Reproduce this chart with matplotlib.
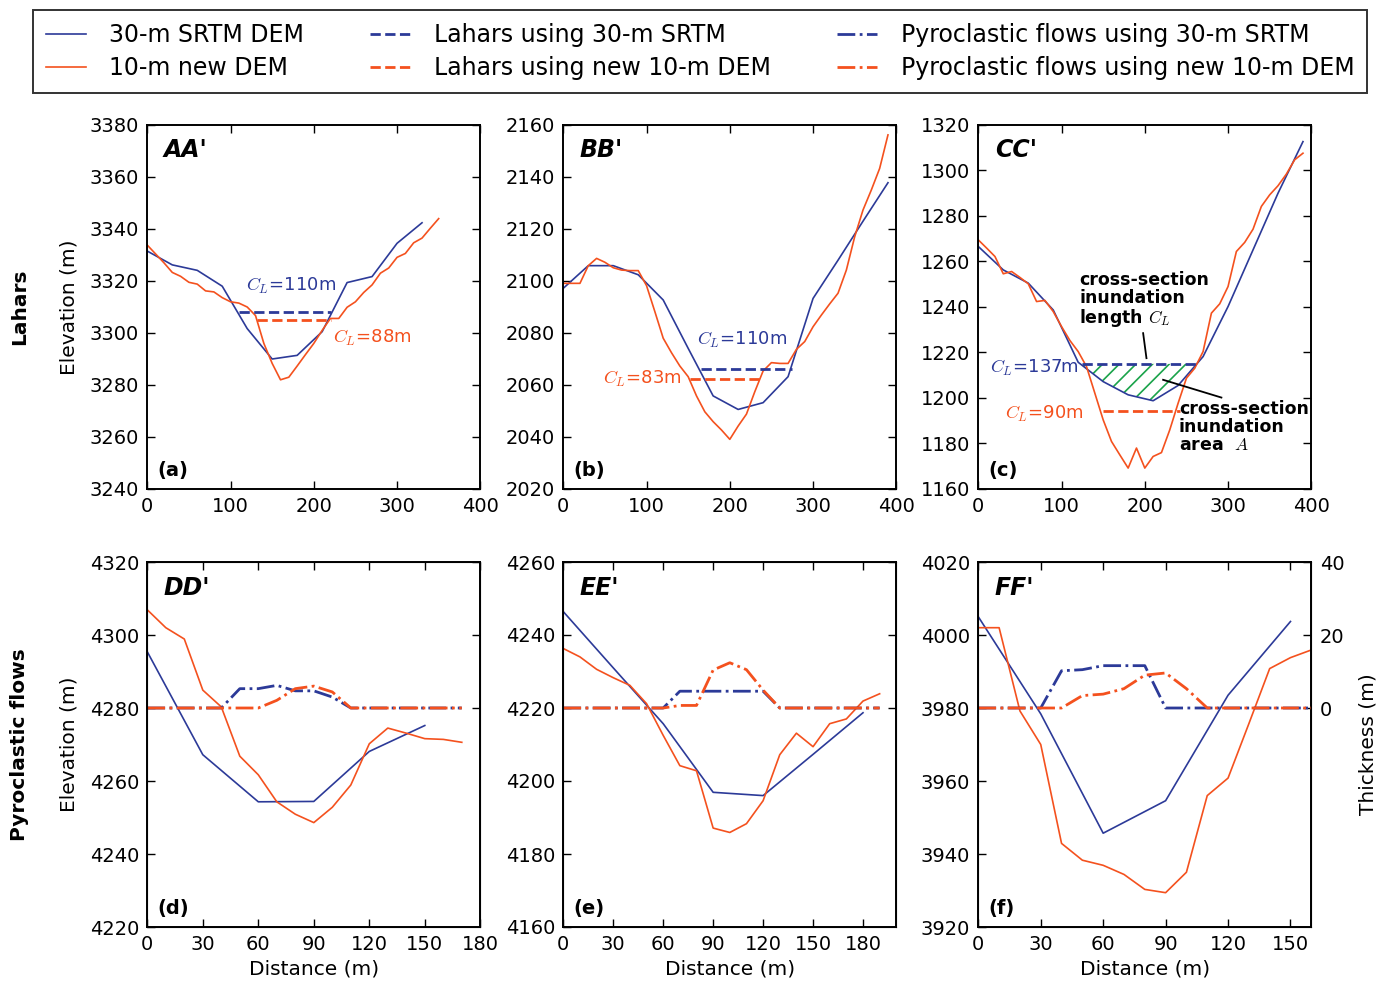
import matplotlib
matplotlib.use("Agg")
import matplotlib.pyplot as plt
import numpy as np

plt.rcParams['font.family'] = ['DejaVu Sans']
plt.rcParams['mathtext.fontset'] = 'cm'
plt.rcParams['hatch.linewidth'] = 1.2

BLUE = '#2c3a98'
ORANGE = '#f4511e'
GREEN = '#1aa34a'

# ---- lahars: elevation profiles ----
a_x30 = [0, 30, 60, 90, 120, 150, 180, 210, 240, 270, 300, 330]
a_z30 = [3331.5, 3326.2, 3324.1, 3318.0, 3301.7, 3290.0, 3291.4, 3300.5, 3319.4, 3321.7, 3334.5, 3342.4]
a_x10 = list(range(0, 351, 10))
a_z10 = [3333.8, 3330.4, 3327.0, 3323.3, 3321.8, 3319.5, 3318.8, 3316.2, 3315.8, 3313.6,
         3312.0, 3311.5, 3310.0, 3306.7, 3296.0, 3288.3, 3282.0, 3283.0, 3287.3, 3291.7,
         3296.0, 3301.0, 3305.6, 3305.6, 3309.9, 3312.0, 3315.6, 3318.5, 3323.0, 3325.0,
         3329.1, 3330.6, 3334.7, 3336.5, 3340.3, 3344.0]

b_x30 = [0, 30, 60, 90, 120, 150, 180, 210, 240, 270, 300, 330, 360, 390]
b_z30 = [2097.2, 2105.9, 2105.9, 2102.4, 2092.7, 2074.1, 2055.8, 2050.6, 2053.2, 2063.2,
         2093.3, 2108.0, 2123.0, 2137.8]
b_x10 = list(range(0, 391, 10))
b_z10 = [2099.1, 2099.1, 2099.1, 2105.9, 2108.7, 2107.2, 2105.1, 2104.2, 2104.0, 2104.0,
         2098.2, 2088.2, 2078.0, 2072.4, 2067.3, 2063.2, 2055.8, 2049.7, 2045.9, 2042.7,
         2039.1, 2044.2, 2048.8, 2057.4, 2065.4, 2068.6, 2068.3, 2068.3, 2073.7, 2076.7,
         2082.4, 2086.9, 2091.2, 2095.3, 2104.2, 2117.0, 2127.3, 2135.0, 2143.3, 2156.2]

c_x30 = [0, 30, 60, 90, 120, 150, 180, 210, 240, 270, 300, 330, 360, 390]
c_z30 = [1266.6, 1256.3, 1250.5, 1238.7, 1215.7, 1207.2, 1201.4, 1198.8, 1205.5, 1218.2,
         1240.2, 1265.1, 1290.0, 1312.7]
c_x10 = list(range(0, 391, 10))
c_z10 = [1269.5, 1265.9, 1262.2, 1254.6, 1255.6, 1253.0, 1250.2, 1242.4, 1242.9, 1238.0,
         1231.4, 1225.3, 1220.4, 1213.8, 1202.1, 1190.4, 1180.9, 1175.0, 1169.2, 1178.0,
         1169.2, 1174.3, 1176.0, 1186.0, 1197.7, 1208.7, 1213.1, 1220.4, 1237.3, 1241.4,
         1249.0, 1264.4, 1268.4, 1274.2, 1284.2, 1289.3, 1293.3, 1298.4, 1304.7, 1307.6]

# lahar inundation: (x start, x end, level)
a_inun30 = (110, 221, 3308.0)
a_inun10 = (132, 221, 3305.0)
b_inun30 = (165, 275, 2066.0)
b_inun10 = (152, 237, 2062.2)
c_inun30 = (124, 262, 1215.0)
c_inun10 = (150, 242, 1194.1)
a_cl = ['110', '88']
b_cl = ['110', '83']
c_cl = ['137', '90']

# ---- pyroclastic flows: elevation profiles ----
d_x30 = [0, 30, 60, 90, 120, 150]
d_z30 = [4295.4, 4267.2, 4254.3, 4254.4, 4268.1, 4275.2]
d_x10 = list(range(0, 171, 10))
d_z10 = [4306.9, 4302.0, 4298.9, 4284.9, 4280.3, 4266.8, 4261.7, 4254.3, 4250.9, 4248.6,
         4252.8, 4258.9, 4270.2, 4274.5, 4273.1, 4271.6, 4271.4, 4270.6]

e_x30 = [0, 30, 60, 90, 120, 150, 180]
e_z30 = [4246.4, 4231.0, 4215.7, 4196.9, 4196.0, 4207.3, 4218.7]
e_x10 = list(range(0, 191, 10))
e_z10 = [4236.3, 4234.0, 4230.6, 4228.3, 4226.2, 4221.2, 4212.5, 4204.2, 4202.8, 4187.1,
         4185.9, 4188.3, 4194.6, 4207.2, 4213.1, 4209.4, 4215.7, 4217.0, 4221.9, 4223.9]

f_x30 = [0, 30, 60, 90, 120, 150]
f_z30 = [4005.0, 3978.4, 3945.7, 3954.6, 3983.5, 4003.7]
f_x10 = list(range(0, 161, 10))
f_z10 = [4002.0, 4002.0, 3979.2, 3970.0, 3942.9, 3938.3, 3936.9, 3934.4, 3930.3, 3929.4,
         3935.0, 3956.0, 3960.8, 3975.7, 3990.8, 3993.8, 3995.9]

# ---- pyroclastic flow thickness ----
d_tx = list(range(0, 171, 10))
d_t30 = [0, 0, 0, 0, 0, 5.3, 5.3, 6.2, 4.7, 4.7, 3.0, 0, 0, 0, 0, 0, 0, 0]
d_t10 = [0, 0, 0, 0, 0, 0, 0, 2.1, 5.3, 6.0, 4.4, 0, 0, 0, 0, 0, 0, 0]
e_tx = list(range(0, 191, 10))
e_t30 = [0, 0, 0, 0, 0, 0, 0, 4.6, 4.6, 4.6, 4.6, 4.6, 4.6, 0, 0, 0, 0, 0, 0, 0]
e_t10 = [0, 0, 0, 0, 0, 0, 0, 0.7, 0.7, 10.4, 12.4, 10.5, 4.9, 0, 0, 0, 0, 0, 0, 0]
f_tx = list(range(0, 161, 10))
f_t30 = [0, 0, 0, 0, 10.2, 10.5, 11.6, 11.6, 11.6, 0, 0, 0, 0, 0, 0, 0, 0]
f_t10 = [0, 0, 0, 0, 0, 3.4, 3.8, 5.3, 9.0, 9.6, 5.3, 0, 0, 0, 0, 0, 0]

W, H = 1386, 982
fig = plt.figure(figsize=(W / 100, H / 100), dpi=100)

lefts = [147.3, 563.3, 978.3]
aw = 333.0
top_row = (125, 489)
bot_row = (562, 927)


def make_ax(col, row):
    t, b = row
    return fig.add_axes([lefts[col] / W, 1 - b / H, aw / W, (b - t) / H])


def style(ax):
    ax.tick_params(direction='in', top=True, right=True, length=6, width=1,
                   labelsize=14, pad=6)
    for s in ax.spines.values():
        s.set_linewidth(1.4)


def lahar(ax, x30, z30, x10, z10, inun30, inun10, ylim, yticks, title, tag):
    ax.plot(x30, z30, color=BLUE, lw=1.2)
    ax.plot(x10, z10, color=ORANGE, lw=1.2)
    ax.plot(inun30[:2], [inun30[2]] * 2, color=BLUE, ls='--', lw=2)
    ax.plot(inun10[:2], [inun10[2]] * 2, color=ORANGE, ls='--', lw=2)
    ax.set_xlim(0, 400)
    ax.set_xticks([0, 100, 200, 300, 400])
    ax.set_ylim(*ylim)
    ax.set_yticks(yticks)
    ax.text(0.05, 0.93, title, transform=ax.transAxes, fontsize=17,
            fontweight='bold', style='italic', va='center')
    ax.text(0.03, 0.05, tag, transform=ax.transAxes, fontsize=14,
            fontweight='bold', va='center')
    style(ax)


def pyro(ax, x30, z30, x10, z10, tx, t30, t10, xlim, ylim, title, tag, show_right):
    ax.plot(x30, z30, color=BLUE, lw=1.2)
    ax.plot(x10, z10, color=ORANGE, lw=1.2)
    ax.set_xlim(*xlim)
    ax.set_xticks(np.arange(0, xlim[1] + 1, 30))
    ax.set_ylim(*ylim)
    ax.set_yticks(np.arange(ylim[0], ylim[1] + 1, 20))
    ax.set_xlabel('Distance (m)', fontsize=14.5)
    ax.text(0.05, 0.93, title, transform=ax.transAxes, fontsize=17,
            fontweight='bold', style='italic', va='center')
    ax.text(0.03, 0.05, tag, transform=ax.transAxes, fontsize=14,
            fontweight='bold', va='center')
    style(ax)
    ax2 = ax.twinx()
    ax2.plot(tx, t30, color=BLUE, ls='-.', lw=2)
    ax2.plot(tx, t10, color=ORANGE, ls='-.', lw=2)
    ax2.set_ylim(-60, 40)
    ax2.set_yticks([0, 20, 40])
    ax2.tick_params(direction='in', length=6, width=1, labelsize=14, pad=6,
                    labelright=show_right)
    if show_right:
        ax2.set_ylabel('Thickness (m)', fontsize=14.5, labelpad=10)
    return ax2


ax_a = make_ax(0, top_row)
lahar(ax_a, a_x30, a_z30, a_x10, a_z10, a_inun30, a_inun10, (3240, 3380),
      range(3240, 3381, 20), "AA'", '(a)')
ax_a.text(119, 3318, '$C_L$=' + a_cl[0] + 'm', color=BLUE, fontsize=13, va='center')
ax_a.text(223, 3298, '$C_L$=' + a_cl[1] + 'm', color=ORANGE, fontsize=13, va='center')
ax_a.set_ylabel('Elevation (m)', fontsize=14.5, labelpad=8)

ax_b = make_ax(1, top_row)
lahar(ax_b, b_x30, b_z30, b_x10, b_z10, b_inun30, b_inun10, (2020, 2160),
      range(2020, 2161, 20), "BB'", '(b)')
ax_b.text(161, 2077.3, '$C_L$=' + b_cl[0] + 'm', color=BLUE, fontsize=13, va='center')
ax_b.text(142, 2062.4, '$C_L$=' + b_cl[1] + 'm', color=ORANGE, fontsize=13,
          va='center', ha='right')

ax_c = make_ax(2, top_row)
lahar(ax_c, c_x30, c_z30, c_x10, c_z10, c_inun30, c_inun10, (1160, 1320),
      range(1160, 1321, 20), "CC'", '(c)')
xs = np.linspace(c_inun30[0], c_inun30[1], 300)
zb = np.interp(xs, c_x30, c_z30)
ax_c.fill_between(xs, zb, c_inun30[2], where=zb <= c_inun30[2], facecolor='none',
                  edgecolor=GREEN, hatch='//', lw=0)
ax_c.text(120, 1213, '$C_L$=' + c_cl[0] + 'm', color=BLUE, fontsize=13,
          va='center', ha='right')
ax_c.text(126, 1193, '$C_L$=' + c_cl[1] + 'm', color=ORANGE, fontsize=13,
          va='center', ha='right')
ax_c.text(121, 1243, 'cross-section\ninundation\nlength $C_L$', fontsize=12.5,
          fontweight='bold', va='center', linespacing=1.0)
ax_c.plot([198, 202], [1228.5, 1217.5], color='black', lw=1.3)
ax_c.plot([222, 292], [1208, 1200.2], color='black', lw=1.3)
ax_c.text(241, 1187.3, 'cross-section\ninundation\narea  $A$', fontsize=12.5,
          fontweight='bold', va='center', linespacing=1.0)

ax_d = make_ax(0, bot_row)
pyro(ax_d, d_x30, d_z30, d_x10, d_z10, d_tx, d_t30, d_t10, (0, 180), (4220, 4320),
     "DD'", '(d)', False)
ax_d.set_ylabel('Elevation (m)', fontsize=14.5, labelpad=8)

ax_e = make_ax(1, bot_row)
pyro(ax_e, e_x30, e_z30, e_x10, e_z10, e_tx, e_t30, e_t10, (0, 200), (4160, 4260),
     "EE'", '(e)', False)

ax_f = make_ax(2, bot_row)
pyro(ax_f, f_x30, f_z30, f_x10, f_z10, f_tx, f_t30, f_t10, (0, 160), (3920, 4020),
     "FF'", '(f)', True)

fig.text(20 / W, 1 - 307 / H, 'Lahars', rotation=90, fontsize=14.5,
         fontweight='bold', ha='center', va='center')
fig.text(20 / W, 1 - 745 / H, 'Pyroclastic flows', rotation=90, fontsize=14.5,
         fontweight='bold', ha='center', va='center')

handles = [
    plt.Line2D([], [], color=BLUE, lw=1.2),
    plt.Line2D([], [], color=ORANGE, lw=1.2),
    plt.Line2D([], [], color=BLUE, ls='--', lw=2),
    plt.Line2D([], [], color=ORANGE, ls='--', lw=2),
    plt.Line2D([], [], color=BLUE, ls='-.', lw=2),
    plt.Line2D([], [], color=ORANGE, ls='-.', lw=2),
]
labels = ['30-m SRTM DEM', '10-m new DEM', 'Lahars using 30-m SRTM',
          'Lahars using new 10-m DEM', 'Pyroclastic flows using 30-m SRTM',
          'Pyroclastic flows using new 10-m DEM']
leg = fig.legend(handles, labels, ncol=3, loc='upper center',
                 bbox_to_anchor=(700 / W, 1 - 10 / H),
                 fontsize=17, frameon=True, fancybox=False, edgecolor='black',
                 handlelength=1.7, handletextpad=1.0, borderpad=0.55,
                 labelspacing=0.4, columnspacing=2.8, borderaxespad=0)
leg.get_frame().set_linewidth(1.4)

fig.savefig('out.png', dpi=100)
